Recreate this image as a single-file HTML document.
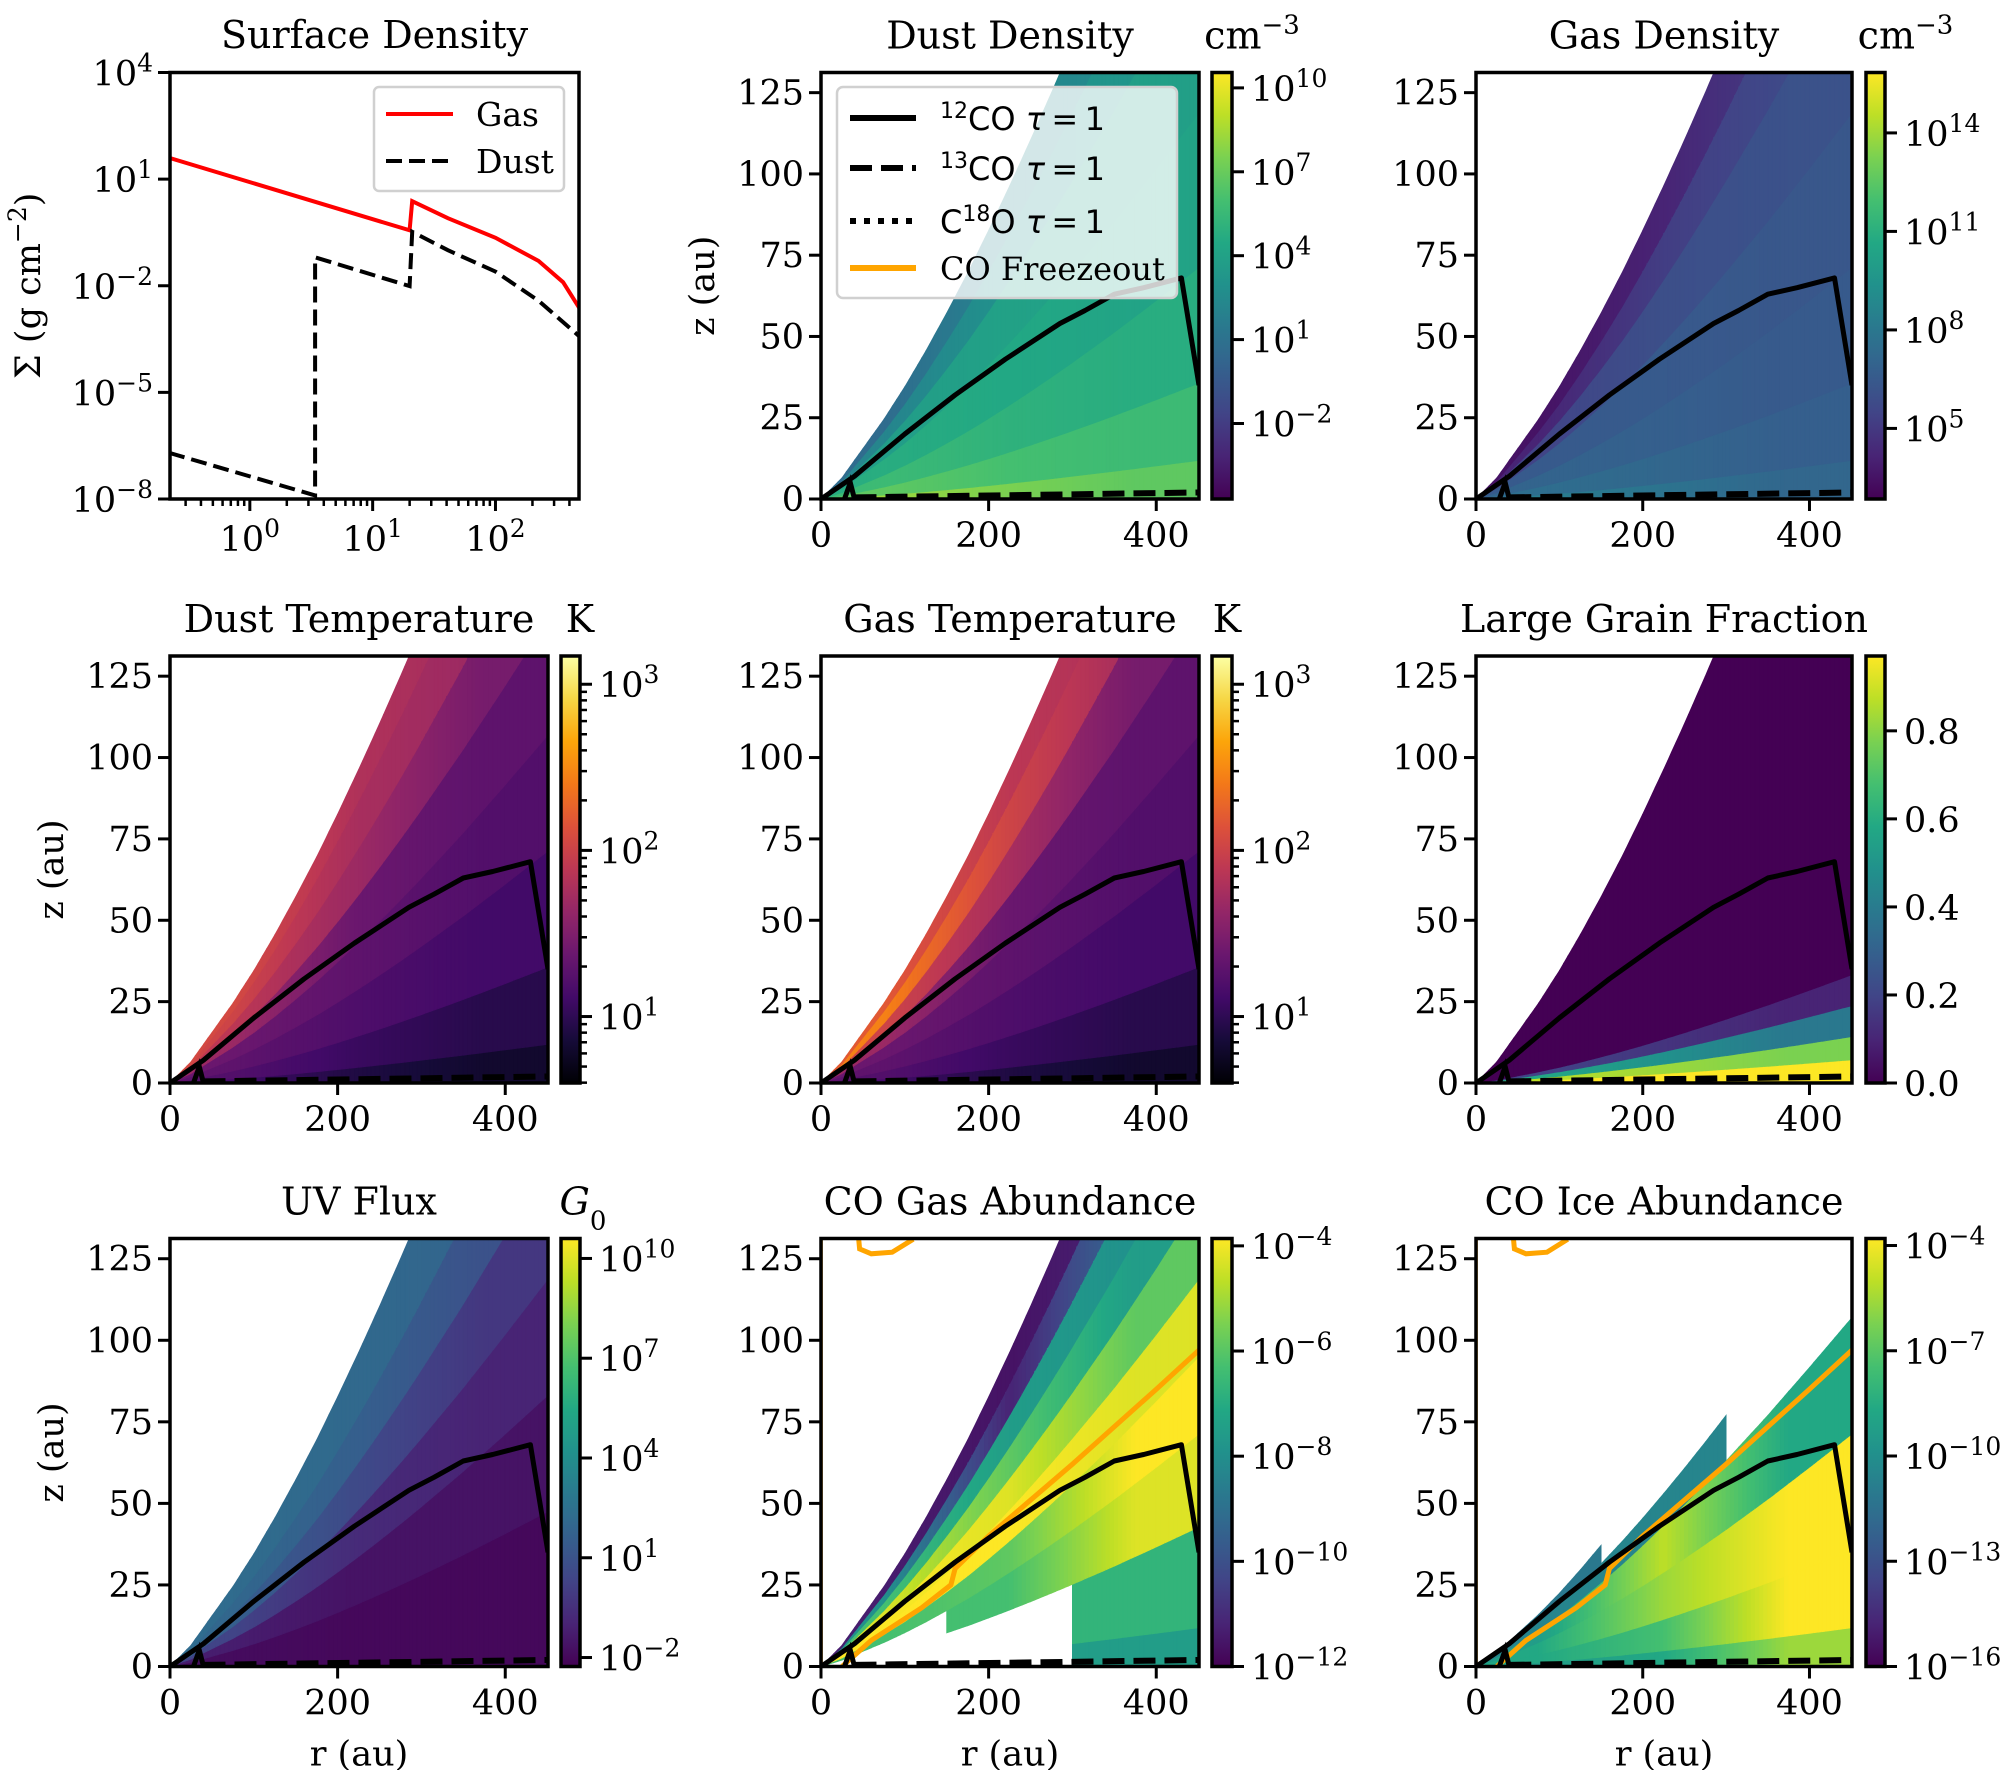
<!DOCTYPE html>
<html><head><meta charset="utf-8"><style>
html,body{margin:0;padding:0;background:#fff;}
svg{display:block;font-family:"DejaVu Serif","Liberation Serif",serif;}
</style></head><body>
<svg id="fig" width="2000" height="1770" viewBox="0 0 2000 1770" xmlns="http://www.w3.org/2000/svg"></svg>
<script>
// ---------- DATA ----------
const gasR = [0.22, 20, 21, 41, 100, 224, 355, 480];
const gasSigma = [39.8, 0.363, 2.40, 0.794, 0.224, 0.050, 0.0126, 0.0024];
const dustR = [0.22, 3.4, 3.4, 20, 21, 41, 100, 224, 480];
const dustSigma = [2.0e-7, 1.26e-8, 0.063, 0.0098, 0.33, 0.10, 0.025, 0.0038, 0.00038];
const surfR = [0,25,50,75,100,125,150,175,200,225,250,275,300,350,400,450,460];
const surfZ = [0,6.5,15.5,24.5,34.5,45.5,57.2,69.5,82.6,96.3,110.4,125,140,171,203.6,237,244];
const tauR = [0,40,100,160,220,285,315,350,385,430,451];
const tauZ = [0,7,20,32,43,54,58,63,65,68,35];
const spikeR = [28,35,40];
const spikeZ = [0,5,0];
const tau13R = [40,451];
const tau13Z = [0.5,2];
const frzR = [25,60,120,155,160,200,300,400,451];
const frzZ = [0,8,18,25,30,40,62,85,97];
const frzLoopR = [45,46,60,85,110];
const frzLoopZ = [131,128,126.5,127,131];
const zoneEdges = [0,150,300,452];
const zoneCenters = [75,225,375];
const dDensBands = [0,0.05,0.15,0.3,0.5,0.7,0.85,1];
const dDensVals = [[.85,.8,.75],[.75,.7,.68],[.68,.64,.62],[.62,.6,.58],[.55,.57,.56],[.45,.5,.52],[.35,.45,.48],[.28,.38,.42]];
const gDensBands = [0,0.05,0.15,0.3,0.5,0.7,0.85,1];
const gDensVals = [[.42,.38,.33],[.36,.33,.3],[.32,.3,.28],[.28,.28,.27],[.2,.24,.25],[.1,.18,.22],[.05,.1,.18],[.02,.05,.12]];
const dTempBands = [0,0.05,0.15,0.3,0.45,0.6,0.75,0.9,1];
const dTempVals = [[.2,.12,.08],[.24,.18,.14],[.27,.23,.2],[.3,.27,.24],[.42,.3,.27],[.5,.42,.33],[.55,.45,.42],[.57,.47,.44]];
const gTempBands = [0,0.05,0.15,0.3,0.45,0.6,0.75,0.9,1];
const gTempVals = [[.2,.12,.08],[.24,.18,.14],[.27,.23,.2],[.3,.27,.24],[.42,.3,.27],[.55,.45,.33],[.72,.55,.44],[.62,.5,.46]];
const lgfBands = [0,0.03,0.06,0.1,0.14,1];
const lgfVals = [[1,1,1],[.9,.85,.8],[.6,.5,.4],[.2,.15,.1],[0,0,0]];
const uvBands = [0,0.2,0.35,0.5,0.65,0.8,1];
const uvVals = [[.03,.02,.02],[.08,.05,.05],[.2,.12,.1],[.3,.22,.16],[.33,.3,.25],[.35,.34,.32]];
const coGasBands = [0,.05,.18,.3,.4,.5,.6,.7,.8,.9,1];
const coGasVals = [[-1,-1,.55],[-1,-1,.65],[-1,.7,.95],[.7,.75,1],[1,1,.95],[1,.95,.75],[.95,.75,.55],[.7,.55,.5],[.5,.1,.35],[.08,.05,.1]];
const coIceBands = [0,.05,.15,.3,.45,.55,.65,.75,1];
const coIceVals = [[.55,.6,.85],[.6,.7,1],[.6,.85,1],[.55,.9,.6],[.45,.45,-1],[.4,-1,-1],[-1,-1,-1],[-1,-1,-1]];
const cbDensDustTicks = [10,7,4,1,-2];
const cbDensGasTicks = [14,11,8,5];
const cbTempTicks = [1,2,3];
const cbLgfTicks = [0,0.2,0.4,0.6,0.8];
const cbUvTicks = [10,7,4,1,-2];
const cbCoGasTicks = [-4,-6,-8,-10,-12];
const cbCoIceTicks = [-4,-7,-10,-13,-16];
const xTicks = [0,200,400];
const yTicks = [0,25,50,75,100,125];
const sdYTicks = [4,1,-2,-5,-8];
const sdXTicks = [0,1,2];

// ---------- HELPERS ----------
const NS='http://www.w3.org/2000/svg';
const svg=document.getElementById('fig');
function mk(tag,attrs,parent){const e=document.createElementNS(NS,tag);for(const k in attrs)e.setAttribute(k,attrs[k]);(parent||svg).appendChild(e);return e;}
const VIR=['#440154','#482475','#414487','#355f8d','#2a788e','#21918c','#22a884','#44bf70','#7ad151','#bddf26','#fde725'];
const INF=['#000004','#160b39','#420a68','#6a176e','#932667','#bc3754','#dd513a','#f37819','#fca50a','#f6d746','#fcffa4'];
function hex(h){return [parseInt(h.slice(1,3),16),parseInt(h.slice(3,5),16),parseInt(h.slice(5,7),16)];}
function cmap(stops,t){t=Math.max(0,Math.min(1,t));const f=t*10,i=Math.min(9,Math.floor(f)),u=f-i;const a=hex(stops[i]),b=hex(stops[i+1]);return 'rgb('+a.map((v,k)=>Math.round(v+(b[k]-v)*u)).join(',')+')';}
function interp(xs,ys,x){if(x<=xs[0])return ys[0];for(let i=1;i<xs.length;i++){if(x<=xs[i]){const u=(x-xs[i-1])/(xs[i]-xs[i-1]);return ys[i-1]+u*(ys[i]-ys[i-1]);}}return ys[ys.length-1];}
function sup(el,base,exp,size){el.appendChild(document.createTextNode(base));const t=mk('tspan',{'baseline-shift':'super','font-size':size||24},el);t.textContent=exp;}
function valAt(row,r){
  let zi=0;while(zi<zoneEdges.length-2&&r>=zoneEdges[zi+1])zi++;
  const own=row[zi];if(own<0)return -1;
  const j=r<zoneCenters[zi]?zi-1:zi+1;
  if(j<0||j>=row.length||row[j]<0)return own;
  const u=Math.abs(r-zoneCenters[zi])/Math.abs(zoneCenters[j]-zoneCenters[zi]);
  return own+(row[j]-own)*u;
}

const ROWS=[{t:72.5,b:499},{t:656,b:1083},{t:1238.5,b:1666.5}];
const COLS=[{l:170,r:548,cl:561,cr:580},{l:821,r:1199,cl:1212,cr:1232},{l:1476,r:1852,cl:1866,cr:1885}];
const XMAX=451,YMAX=131.2;
const TF=38,LF=35,SF=25;

function title(x,y,txt,name){const t=mk('text',{x:x,y:y,'font-size':TF,'text-anchor':'middle'});t.textContent=txt;return t;}

function heatPanel(ci,ri,opts){
  const C=COLS[ci],R=ROWS[ri];
  const g=mk('g',{});
  
  
  const sx=r=>C.l+(r/XMAX)*(C.r-C.l);
  const sy=z=>R.b-(z/YMAX)*(R.b-R.t);
  const cid='clip'+ci+ri;
  const cp=mk('clipPath',{id:cid},g);mk('rect',{x:C.l,y:R.t,width:C.r-C.l,height:R.b-R.t},cp);
  const cells=mk('g',{'clip-path':'url(#'+cid+')'},g);
  
  
  const dr=5;
  for(let r0=0;r0<XMAX;r0+=dr){
    const r1=Math.min(r0+dr,XMAX+1);
    const h0=interp(surfR,surfZ,r0),h1=interp(surfR,surfZ,r1);
    for(let b=0;b<opts.bands.length-1;b++){
      const v=valAt(opts.vals[b],(r0+r1)/2);if(v<0)continue;
      const s0=opts.bands[b],s1=opts.bands[b+1];
      const col=cmap(opts.cm,v);
      const pts=[[sx(r0),sy(s0*h0)],[sx(r1),sy(s0*h1)],[sx(r1),sy(s1*h1)],[sx(r0),sy(s1*h0)]].map(p=>p[0].toFixed(1)+','+p[1].toFixed(1)).join(' ');
      const p=mk('polygon',{points:pts,fill:col,stroke:col,'stroke-width':0.8},cells);
      
      
    }
  }
  const ov=mk('g',{'clip-path':'url(#'+cid+')'},g);
  function line(xs,ys,attrs,name){const d=xs.map((x,i)=>(i?'L':'M')+sx(x).toFixed(1)+','+sy(ys[i]).toFixed(1)).join(' ');const p=mk('path',Object.assign({d:d,fill:'none'},attrs),ov);return p;}
  if(opts.freeze){
    line([0.3,0.3],[0,YMAX],{stroke:'#ffa500','stroke-width':3},'freezeout-edge');
    line(frzR,frzZ,{stroke:'#ffa500','stroke-width':5},'co-freezeout-line');
    line(frzLoopR,frzLoopZ,{stroke:'#ffa500','stroke-width':5},'co-freezeout-loop');
  }
  line(tauR,tauZ,{stroke:'#000','stroke-width':5,'stroke-linejoin':'round'},'co12-tau1-line');
  line(spikeR,spikeZ,{stroke:'#000','stroke-width':5},'co12-tau1-inner');
  line(tau13R,tau13Z,{stroke:'#000','stroke-width':6,'stroke-dasharray':'22 9'},'co13-tau1-line');
  const fr=mk('rect',{x:C.l,y:R.t,width:C.r-C.l,height:R.b-R.t,fill:'none',stroke:'#000','stroke-width':3.5},g);
  
  xTicks.forEach(v=>{const x=sx(v);const tk=mk('line',{x1:x,x2:x,y1:R.b,y2:R.b+12,stroke:'#000','stroke-width':3},g);
    const t=mk('text',{x:x,y:R.b+48,'font-size':LF,'text-anchor':'middle'},g);t.textContent=v;});
  yTicks.forEach(v=>{const y=sy(v);const tk=mk('line',{x1:C.l-12,x2:C.l,y1:y,y2:y,stroke:'#000','stroke-width':3},g);
    const t=mk('text',{x:C.l-17,y:y+12,'font-size':LF,'text-anchor':'end'},g);t.textContent=v;});
  const gid='grad'+ci+ri;
  const lg=mk('linearGradient',{id:gid,x1:0,y1:1,x2:0,y2:0},g);
  for(let i=0;i<=20;i++){mk('stop',{offset:i/20,'stop-color':cmap(opts.cm,i/20)},lg);}
  const cb=mk('rect',{x:C.cl,y:R.t,width:C.cr-C.cl,height:R.b-R.t,fill:'url(#'+gid+')',stroke:'#000','stroke-width':3.5},g);
  
  const cy=v=>R.b-(v-opts.cbMin)/(opts.cbMax-opts.cbMin)*(R.b-R.t);
  if(opts.minor){opts.minor.forEach(v=>{if(v<opts.cbMin||v>opts.cbMax)return;const y=cy(v);const tk=mk('line',{x1:C.cr,x2:C.cr+7,y1:y,y2:y,stroke:'#000','stroke-width':2.5},g);});}
  opts.ticks.forEach(v=>{const y=cy(v);const tk=mk('line',{x1:C.cr,x2:C.cr+12,y1:y,y2:y,stroke:'#000','stroke-width':3},g);
    const t=mk('text',{x:C.cr+19,y:y+13,'font-size':LF},g);
    if(opts.linear)t.textContent=v.toFixed(1);else sup(t,'10',String(v).replace('-','\u2212'),SF);
    });
  title((C.l+C.r)/2,R.t-24,opts.title,opts.name+'-title');
  if(opts.unit){const u=mk('text',{x:opts.unitX||(C.cl+C.cr)/2+30,y:R.t-24,'font-size':TF,'text-anchor':'middle'});
    if(opts.unit==='cm')sup(u,'cm','\u22123',26);
    else if(opts.unit==='G'){u.setAttribute('font-style','italic');u.appendChild(document.createTextNode('G'));const s=mk('tspan',{'baseline-shift':'sub','font-size':26,'font-style':'normal'},u);s.textContent='0';}
    else u.textContent=opts.unit;
    }
  if(opts.ylabel){const yl=mk('text',{x:0,y:0,'font-size':LF,'text-anchor':'middle',transform:'translate('+(C.l-107)+','+((R.t+R.b)/2)+') rotate(-90)'});yl.textContent='z (au)';}
  if(opts.xlabel){const xl=mk('text',{x:(C.l+C.r)/2,y:R.b+99,'font-size':LF,'text-anchor':'middle'});xl.textContent='r (au)';}
  return g;
}
function logMinor(a,b){const m=[];for(let d=Math.floor(a);d<=Math.ceil(b);d++)for(let k=2;k<=9;k++)m.push(d+Math.log10(k));return m;}

// ---------- SURFACE DENSITY PANEL ----------
(function(){
  const L=170,Rr=579,T=72.5,B=499;
  const lxMin=-0.65,lxMax=2.68,lyMin=-8,lyMax=4;
  const sx=r=>L+(Math.log10(r)-lxMin)/(lxMax-lxMin)*(Rr-L);
  const sy=s=>B-(Math.log10(s)-lyMin)/(lyMax-lyMin)*(B-T);
  const g=mk('g',{});
  const cp=mk('clipPath',{id:'sdclip'},g);mk('rect',{x:L,y:T,width:Rr-L,height:B-T},cp);
  const gas=mk('path',{d:gasR.map((r,i)=>(i?'L':'M')+sx(r).toFixed(1)+','+sy(gasSigma[i]).toFixed(1)).join(' '),fill:'none',stroke:'#ff0000','stroke-width':4,'clip-path':'url(#sdclip)'},g);
  
  const dust=mk('path',{d:dustR.map((r,i)=>(i?'L':'M')+sx(r).toFixed(1)+','+sy(dustSigma[i]).toFixed(1)).join(' '),fill:'none',stroke:'#000','stroke-width':4,'stroke-dasharray':'16 7','clip-path':'url(#sdclip)'},g);
  
  const fr=mk('rect',{x:L,y:T,width:Rr-L,height:B-T,fill:'none',stroke:'#000','stroke-width':3.5},g);
  
  sdYTicks.forEach(v=>{const y=sy(Math.pow(10,v));const tk=mk('line',{x1:L-12,x2:L,y1:y,y2:y,stroke:'#000','stroke-width':3},g);
    const t=mk('text',{x:L-17,y:y+13,'font-size':LF,'text-anchor':'end'},g);sup(t,'10',String(v).replace('-','\u2212'),SF);});
  logMinor(lxMin,lxMax).forEach(v=>{if(v<lxMin||v>lxMax)return;const x=sx(Math.pow(10,v));const tk=mk('line',{x1:x,x2:x,y1:B,y2:B+7,stroke:'#000','stroke-width':2.5},g);});
  sdXTicks.forEach(v=>{const x=sx(Math.pow(10,v));const tk=mk('line',{x1:x,x2:x,y1:B,y2:B+12,stroke:'#000','stroke-width':3},g);
    const t=mk('text',{x:x,y:B+52,'font-size':LF,'text-anchor':'middle'},g);sup(t,'10',String(v),SF);});
  title((L+Rr)/2,48,'Surface Density','surface-density-title');
  const yl=mk('text',{x:0,y:0,'font-size':LF,'text-anchor':'middle',transform:'translate(40,'+((T+B)/2)+') rotate(-90)'});
  yl.appendChild(document.createTextNode('\u03A3 (g cm'));const s=mk('tspan',{'baseline-shift':'super','font-size':SF},yl);s.textContent='\u22122';const s2=mk('tspan',{'baseline-shift':'0'},yl);s2.textContent=')';
  
  const lg=mk('g',{},g);
  mk('rect',{x:374,y:87,width:190,height:104,rx:5,fill:'#fff','fill-opacity':0.85,stroke:'#d0d0d0','stroke-width':2.5},lg);
  const e1=mk('line',{x1:386,x2:453,y1:114,y2:114,stroke:'#ff0000','stroke-width':4},lg);
  const t1=mk('text',{x:476,y:126,'font-size':33},lg);t1.textContent='Gas';
  const e2=mk('line',{x1:386,x2:453,y1:161,y2:161,stroke:'#000','stroke-width':4,'stroke-dasharray':'16 7'},lg);
  const t2=mk('text',{x:476,y:173,'font-size':33},lg);t2.textContent='Dust';
})();

// ---------- HEATMAP PANELS ----------
heatPanel(1,0,{name:'dust-density',title:'Dust Density',unit:'cm',cm:VIR,bands:dDensBands,vals:dDensVals,cbMin:-4.7,cbMax:10.55,ticks:cbDensDustTicks,ylabel:true});
heatPanel(2,0,{name:'gas-density',title:'Gas Density',unit:'cm',cm:VIR,bands:gDensBands,vals:gDensVals,cbMin:2.85,cbMax:15.84,ticks:cbDensGasTicks});
heatPanel(0,1,{name:'dust-temperature',title:'Dust Temperature',unit:'K',unitX:580,cm:INF,bands:dTempBands,vals:dTempVals,cbMin:0.6,cbMax:3.17,ticks:cbTempTicks,minor:logMinor(0,3),ylabel:true});
heatPanel(1,1,{name:'gas-temperature',title:'Gas Temperature',unit:'K',unitX:1227,cm:INF,bands:gTempBands,vals:gTempVals,cbMin:0.6,cbMax:3.17,ticks:cbTempTicks,minor:logMinor(0,3)});
heatPanel(2,1,{name:'large-grain-fraction',title:'Large Grain Fraction',cm:VIR,bands:lgfBands,vals:lgfVals,cbMin:0,cbMax:0.97,ticks:cbLgfTicks,linear:true});
heatPanel(0,2,{name:'uv-flux',title:'UV Flux',unit:'G',unitX:583,cm:VIR,bands:uvBands,vals:uvVals,cbMin:-2.27,cbMax:10.6,ticks:cbUvTicks,ylabel:true,xlabel:true});
heatPanel(1,2,{name:'co-gas-abundance',title:'CO Gas Abundance',cm:VIR,bands:coGasBands,vals:coGasVals,cbMin:-12,cbMax:-3.86,ticks:cbCoGasTicks,freeze:true,xlabel:true});
heatPanel(2,2,{name:'co-ice-abundance',title:'CO Ice Abundance',cm:VIR,bands:coIceBands,vals:coIceVals,cbMin:-16,cbMax:-3.8,ticks:cbCoIceTicks,freeze:true,xlabel:true});

// ---------- TAU LEGEND ----------
(function(){
  const lg=mk('g',{});
  mk('rect',{x:837,y:87,width:340,height:211,rx:6,fill:'#fff','fill-opacity':0.8,stroke:'#d0d0d0','stroke-width':2.5},lg);
  const rows=[{y:118,sty:{stroke:'#000','stroke-width':6},n:'12'},{y:168,sty:{stroke:'#000','stroke-width':6,'stroke-dasharray':'22 9'},n:'13'},{y:221,sty:{stroke:'#000','stroke-width':6,'stroke-dasharray':'6 8'},n:'18'},{y:268,sty:{stroke:'#ffa500','stroke-width':6},n:'frz'}];
  rows.forEach(r=>{
    const h=mk('line',Object.assign({x1:850,x2:916,y1:r.y,y2:r.y},r.sty),lg);
    const t=mk('text',{x:940,y:r.y+12,'font-size':32},lg);
    if(r.n==='frz'){t.textContent='CO Freezeout';}
    else{
      t.setAttribute('font-family','"DejaVu Sans","Liberation Sans",sans-serif');
      if(r.n==='18'){t.appendChild(document.createTextNode('C'));const s=mk('tspan',{'baseline-shift':'super','font-size':22},t);s.textContent='18';const b=mk('tspan',{'baseline-shift':'0'},t);b.textContent='O ';}
      else{const s=mk('tspan',{'baseline-shift':'super','font-size':22},t);s.textContent=r.n;const b=mk('tspan',{'baseline-shift':'0'},t);b.textContent='CO ';}
      const tau=mk('tspan',{'font-style':'italic'},t);tau.textContent='\u03C4';const eq=mk('tspan',{},t);eq.textContent='\u2009=\u20091';
    }
    
  });
})();
</script>
</body></html>
